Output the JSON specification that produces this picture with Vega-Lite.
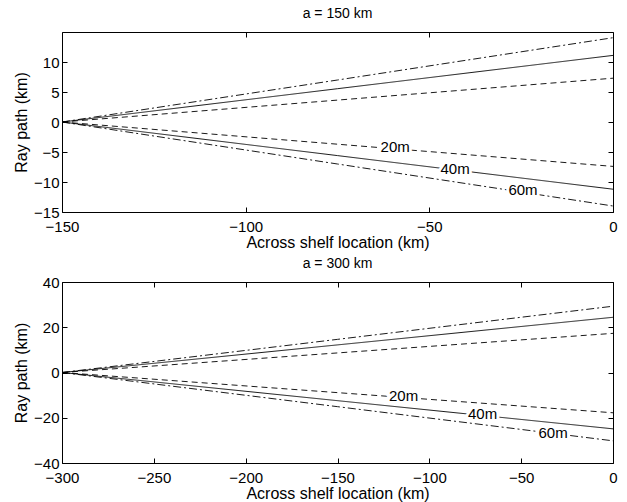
{
  "$schema": "https://vega.github.io/schema/vega-lite/v6.json",
  "background": "white",
  "padding": {"left": 13, "top": 6, "right": 8, "bottom": 2},
  "spacing": 5,
  "datasets": {
    "lines1": [
      {"x": -150, "y": 0, "ray": "20u", "depth": "20m"},
      {"x": -75, "y": 3.65, "ray": "20u", "depth": "20m"},
      {"x": 0, "y": 7.3, "ray": "20u", "depth": "20m"},
      {"x": -150, "y": 0, "ray": "20d", "depth": "20m"},
      {"x": -75, "y": -3.7, "ray": "20d", "depth": "20m"},
      {"x": 0, "y": -7.4, "ray": "20d", "depth": "20m"},
      {"x": -150, "y": 0, "ray": "40u", "depth": "40m"},
      {"x": -75, "y": 5.55, "ray": "40u", "depth": "40m"},
      {"x": 0, "y": 11.1, "ray": "40u", "depth": "40m"},
      {"x": -150, "y": 0, "ray": "40d", "depth": "40m"},
      {"x": -75, "y": -5.6, "ray": "40d", "depth": "40m"},
      {"x": 0, "y": -11.2, "ray": "40d", "depth": "40m"},
      {"x": -150, "y": 0, "ray": "60u", "depth": "60m"},
      {"x": -75, "y": 7.0, "ray": "60u", "depth": "60m"},
      {"x": 0, "y": 14.05, "ray": "60u", "depth": "60m"},
      {"x": -150, "y": 0, "ray": "60d", "depth": "60m"},
      {"x": -75, "y": -7.0, "ray": "60d", "depth": "60m"},
      {"x": 0, "y": -14.0, "ray": "60d", "depth": "60m"}
    ],
    "labels1": [
      {"x": -59.3, "y": -4.2, "label": "20m"},
      {"x": -43, "y": -7.8, "label": "40m"},
      {"x": -24.5, "y": -11.4, "label": "60m"}
    ],
    "lines2": [
      {"x": -300, "y": 0, "ray": "20u", "depth": "20m"},
      {"x": -150, "y": 8.65, "ray": "20u", "depth": "20m"},
      {"x": 0, "y": 17.3, "ray": "20u", "depth": "20m"},
      {"x": -300, "y": 0, "ray": "20d", "depth": "20m"},
      {"x": -150, "y": -8.9, "ray": "20d", "depth": "20m"},
      {"x": 0, "y": -17.8, "ray": "20d", "depth": "20m"},
      {"x": -300, "y": 0, "ray": "40u", "depth": "40m"},
      {"x": -150, "y": 12.2, "ray": "40u", "depth": "40m"},
      {"x": 0, "y": 24.4, "ray": "40u", "depth": "40m"},
      {"x": -300, "y": 0, "ray": "40d", "depth": "40m"},
      {"x": -150, "y": -12.45, "ray": "40d", "depth": "40m"},
      {"x": 0, "y": -24.9, "ray": "40d", "depth": "40m"},
      {"x": -300, "y": 0, "ray": "60u", "depth": "60m"},
      {"x": -150, "y": 14.65, "ray": "60u", "depth": "60m"},
      {"x": 0, "y": 29.3, "ray": "60u", "depth": "60m"},
      {"x": -300, "y": 0, "ray": "60d", "depth": "60m"},
      {"x": -150, "y": -15.1, "ray": "60d", "depth": "60m"},
      {"x": 0, "y": -30.2, "ray": "60d", "depth": "60m"}
    ],
    "labels2": [
      {"x": -114, "y": -10.2, "label": "20m"},
      {"x": -71, "y": -18.4, "label": "40m"},
      {"x": -32.6, "y": -26.9, "label": "60m"}
    ]
  },
  "vconcat": [
    {
      "width": 551,
      "height": 180,
      "title": {"text": "a = 150 km", "fontSize": 14, "fontWeight": "normal", "font": "Liberation Sans", "offset": 11},
      "layer": [
        {
          "data": {"name": "lines1"},
          "mark": {"type": "line", "color": "black", "strokeWidth": 0.9},
          "encoding": {
            "x": {"field": "x", "type": "quantitative", "scale": {"domain": [-150, 0], "nice": false},
              "axis": {"orient": "bottom", "values": [-150, -100, -50, 0], "title": "Across shelf location (km)"}},
            "y": {"field": "y", "type": "quantitative", "scale": {"domain": [-15, 15], "nice": false, "zero": false},
              "axis": {"orient": "left", "values": [-15, -10, -5, 0, 5, 10], "title": "Ray path (km)"}},
            "detail": {"field": "ray"},
            "strokeDash": {"field": "depth", "type": "nominal", "legend": null,
              "scale": {"domain": ["20m", "40m", "60m"], "range": [[6, 4], [1, 0], [8, 3, 2, 3]]}}
          }
        },
        {
          "data": {"name": "labels1"},
          "mark": {"type": "text", "stroke": "white", "strokeWidth": 6, "fill": "white", "fontSize": 15, "font": "Liberation Sans"},
          "encoding": {
            "x": {"field": "x", "type": "quantitative",
              "axis": {"orient": "top", "values": [-150, -100, -50, 0], "labels": false, "title": null}},
            "y": {"field": "y", "type": "quantitative",
              "axis": {"orient": "right", "values": [-15, -10, -5, 0, 5, 10], "labels": false, "title": null}},
            "text": {"field": "label"}
          }
        },
        {
          "data": {"name": "labels1"},
          "mark": {"type": "text", "fill": "black", "fontSize": 15, "font": "Liberation Sans"},
          "encoding": {
            "x": {"field": "x", "type": "quantitative", "axis": null},
            "y": {"field": "y", "type": "quantitative", "axis": null},
            "text": {"field": "label"}
          }
        }
      ],
      "resolve": {"axis": {"x": "independent", "y": "independent"}}
    },
    {
      "width": 551,
      "height": 181,
      "title": {"text": "a = 300 km", "fontSize": 14, "fontWeight": "normal", "font": "Liberation Sans", "offset": 4},
      "layer": [
        {
          "data": {"name": "lines2"},
          "mark": {"type": "line", "color": "black", "strokeWidth": 0.9},
          "encoding": {
            "x": {"field": "x", "type": "quantitative", "scale": {"domain": [-300, 0], "nice": false},
              "axis": {"orient": "bottom", "values": [-300, -250, -200, -150, -100, -50, 0], "title": "Across shelf location (km)"}},
            "y": {"field": "y", "type": "quantitative", "scale": {"domain": [-40, 40], "nice": false},
              "axis": {"orient": "left", "values": [-40, -20, 0, 20, 40], "title": "Ray path (km)"}},
            "detail": {"field": "ray"},
            "strokeDash": {"field": "depth", "type": "nominal", "legend": null,
              "scale": {"domain": ["20m", "40m", "60m"], "range": [[6, 4], [1, 0], [8, 3, 2, 3]]}}
          }
        },
        {
          "data": {"name": "labels2"},
          "mark": {"type": "text", "stroke": "white", "strokeWidth": 6, "fill": "white", "fontSize": 15, "font": "Liberation Sans"},
          "encoding": {
            "x": {"field": "x", "type": "quantitative",
              "axis": {"orient": "top", "values": [-300, -250, -200, -150, -100, -50, 0], "labels": false, "title": null}},
            "y": {"field": "y", "type": "quantitative",
              "axis": {"orient": "right", "values": [-40, -20, 0, 20, 40], "labels": false, "title": null}},
            "text": {"field": "label"}
          }
        },
        {
          "data": {"name": "labels2"},
          "mark": {"type": "text", "fill": "black", "fontSize": 15, "font": "Liberation Sans"},
          "encoding": {
            "x": {"field": "x", "type": "quantitative", "axis": null},
            "y": {"field": "y", "type": "quantitative", "axis": null},
            "text": {"field": "label"}
          }
        }
      ],
      "resolve": {"axis": {"x": "independent", "y": "independent"}}
    }
  ],
  "config": {
    "font": "Liberation Sans",
    "view": {"stroke": "black", "strokeWidth": 1},
    "axis": {
      "domain": false,
      "grid": false,
      "tickSize": -5,
      "tickColor": "black",
      "tickWidth": 1,
      "labelFont": "Liberation Sans",
      "labelFontSize": 15,
      "labelColor": "black",
      "labelFlush": false,
      "labelOverlap": false,
      "titleFont": "Liberation Sans",
      "titleFontSize": 16,
      "titleFontWeight": "normal",
      "titleColor": "black"
    },
    "axisBottom": {"titlePadding": 0, "labelPadding": 12},
    "axisLeft": {"titlePadding": 4, "labelPadding": 8},
    "title": {"color": "black"}
  }
}
